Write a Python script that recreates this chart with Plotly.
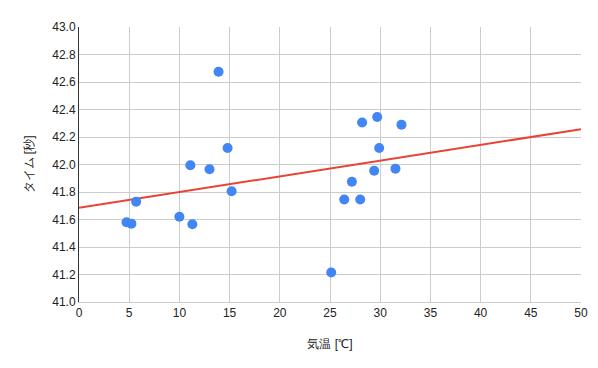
import numpy as np
import plotly.graph_objects as go

temperature = [4.73, 5.22, 5.69, 10.0, 11.29, 11.09, 13.0, 13.9, 14.8, 15.2,
               25.12, 26.42, 28.01, 27.18, 29.4, 28.2, 29.7, 29.9, 31.52, 32.12]
time_sec = [41.58, 41.57, 41.73, 41.62, 41.565, 41.995, 41.965, 42.675, 42.12, 41.805,
            41.215, 41.745, 41.745, 41.875, 41.955, 42.305, 42.345, 42.12, 41.97, 42.29]
x_ticks = [0, 5, 10, 15, 20, 25, 30, 35, 40, 45, 50]
y_ticks = [41.0, 41.2, 41.4, 41.6, 41.8, 42.0, 42.2, 42.4, 42.6, 42.8, 43.0]

slope, intercept = np.polyfit(temperature, time_sec, 1)
trend_x = [0, 50]
trend_y = [intercept + slope * v for v in trend_x]

fig = go.Figure()
fig.add_trace(go.Scatter(x=trend_x, y=trend_y, mode="lines",
                         line=dict(color="#EA4335", width=2), hoverinfo="skip"))
fig.add_trace(go.Scatter(x=temperature, y=time_sec, mode="markers",
                         marker=dict(color="#4285F4", size=10)))

fig.update_layout(
    width=598, height=368,
    margin=dict(l=71, r=25, t=15, b=74),
    paper_bgcolor="white", plot_bgcolor="white",
    showlegend=False,
    font=dict(family="Liberation Sans, Arial, sans-serif", size=12, color="#222222"),
)
fig.update_xaxes(range=[0, 50], tickvals=x_ticks, ticktext=[str(v) for v in x_ticks],
                 showgrid=True, gridcolor="#cccccc", gridwidth=1,
                 showline=True, linecolor="#cccccc", linewidth=1, zeroline=False,
                 ticks="", tickfont=dict(size=12, color="#222222"),
                 title=dict(text="気温 [℃]", font=dict(size=12, color="#222222"), standoff=20))
fig.update_yaxes(range=[41.0, 43.0], tickvals=y_ticks, ticktext=[f"{v:.1f}" for v in y_ticks],
                 showgrid=True, gridcolor="#cccccc", gridwidth=1,
                 showline=True, linecolor="#333333", linewidth=1, zeroline=False,
                 ticks="", tickfont=dict(size=12, color="#222222"),
                 title=dict(text="タイム [秒]", font=dict(size=12, color="#222222"), standoff=16))

fig.write_html("out.html")
